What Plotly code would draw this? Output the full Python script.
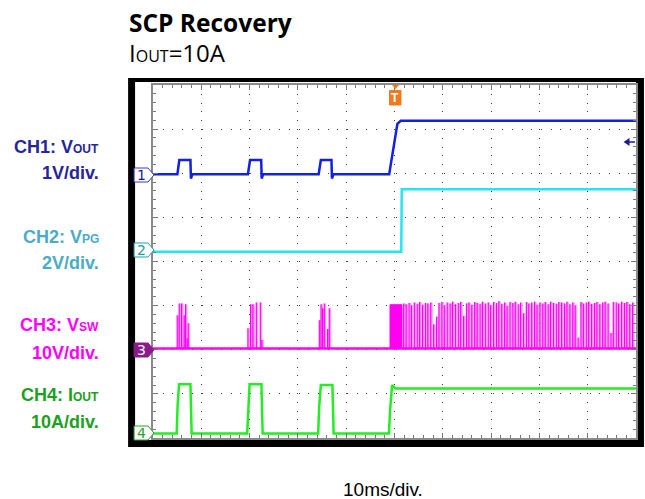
import plotly.graph_objects as go

# ---------------- data (screen divisions; time in ms, trigger at 0) ----------------
ch1_t = [-50, -44.95, -44.55, -42.25, -42.15, -41.85, -30.35, -29.9, -27.6, -27.5, -27.2,
         -15.7, -15.25, -13.05, -12.95, -12.65, -1.1, 0.6, 1.3, 50]
ch1_v = [1.98, 1.98, 2.30, 2.30, 1.88, 1.98, 1.98, 2.30, 2.30, 1.88, 1.98,
         1.98, 2.30, 2.30, 1.88, 1.98, 1.98, 3.12, 3.19, 3.19]

ch2_t = [-50, 1.4, 1.5, 50]
ch2_v = [0.22, 0.22, 1.64, 1.64]

ch3_base = -1.97
ch3_burst_t = [-44.99, -44.58, -44.08, -43.55, -43.26, -42.93, -42.72,
               -30.35, -29.79, -29.32, -28.62, -27.79, -27.46,
               -15.57, -15.22, -14.89, -14.54, -13.86, -13.51]
ch3_burst_h = [0.75, 1.02, 1.02, 0.75, 1.00, 0.23, 0.57,
               0.46, 1.00, 1.00, 1.04, 1.04, 0.19,
               0.64, 1.00, 0.91, 1.02, 0.44, 0.91]
ch3_block = [-0.93, 1.55, 0.99]          # dense switching block: start, end, height
ch3_cont_t = [1.9, 2.4, 3.0, 3.5, 4.1, 4.7, 5.2, 5.8, 6.4, 6.9,
              7.5, 8.1, 8.7, 9.2, 9.8, 10.3, 10.9, 11.5, 12.0, 12.6,
              13.2, 13.7, 14.3, 14.9, 15.4, 16.0, 16.6, 17.1, 17.7, 18.2,
              18.8, 19.4, 19.9, 20.5, 21.1, 21.6, 22.2, 22.8, 23.3, 23.9,
              24.5, 25.0, 25.6, 26.1, 26.7, 27.3, 27.8, 28.4, 29.0, 29.5,
              30.1, 30.7, 31.2, 31.8, 32.3, 32.9, 33.5, 34.0, 34.6, 35.2,
              35.7, 36.3, 36.9, 37.4, 38.0, 38.6, 39.1, 39.7, 40.2, 40.8,
              41.4, 41.9, 42.5, 43.1, 43.6, 44.2, 44.8, 45.3, 45.9, 46.4,
              47.0, 47.6, 48.1, 48.7, 49.3]
ch3_cont_h = [1.02, 1.00, 1.03, 0.98, 1.04, 1.01, 1.05, 0.99, 1.03, 1.02,
              1.04, 0.55, 0.72, 1.03, 1.05, 0.98, 1.04, 1.02, 1.06, 1.00,
              1.03, 1.05, 0.74, 1.02, 1.04, 0.99, 1.05, 1.03, 1.01, 1.06,
              1.02, 1.04, 0.98, 1.05, 1.03, 1.07, 1.01, 1.04, 0.97, 1.05,
              1.03, 1.06, 1.00, 1.04, 0.80, 1.05, 1.02, 1.04, 1.06, 0.99,
              1.04, 1.02, 1.05, 1.00, 1.06, 1.03, 1.01, 1.05, 1.04, 1.02,
              1.06, 1.00, 1.04, 0.98, 0.25, 1.05, 1.02, 1.04, 1.06, 1.01,
              1.03, 1.05, 1.00, 1.04, 1.06, 1.02, 0.35, 1.05, 1.04, 1.02,
              1.06, 1.03, 1.05, 1.00, 1.04]

ch4_t = [-50, -45.1, -44.9, -44.6, -42.25, -42.0, -30.5, -30.3, -30.0, -27.55, -27.3,
         -15.8, -15.6, -15.25, -12.85, -12.6, -1.15, -0.9, -0.5, 0.3, 50]
ch4_v = [-3.90, -3.90, -3.25, -2.78, -2.78, -3.90, -3.90, -3.30, -2.78, -2.78, -3.90,
         -3.90, -3.30, -2.80, -2.80, -3.90, -3.90, -3.35, -2.80, -2.88, -2.88]

labels = [("CH1: V<span style='font-size:12px'>OUT</span>", "1V/div.", "#26269a"),
          ("CH2: V<span style='font-size:12px'>PG</span>", "2V/div.", "#4bacc6"),
          ("CH3: V<span style='font-size:12px'>SW</span>", "10V/div.", "#ff00ff"),
          ("CH4: I<span style='font-size:12px'>OUT</span>", "10A/div.", "#20a020")]

# ---------------- layout helpers (pixel -> paper) ----------------
W, H = 645, 499
L, R, T, B = 153, 7, 85, 61
PW, PH = W - L - R, H - T - B


def px(x):
    return (x - L) / PW


def py(y):
    return (H - B - y) / PH


C1, C2, C3, C4 = "#1020e6", "#22e6f0", "#ff00f0", "#22ee22"

fig = go.Figure()

all_t = ch3_burst_t + ch3_cont_t
all_h = ch3_burst_h + ch3_cont_h

# light pink bars next to each switching spike
bx, by = [-50], [ch3_base]
w = 0.4
for t, h in sorted(zip(all_t, all_h)):
    bx += [t, t, t + w, t + w]
    by += [ch3_base, ch3_base + h, ch3_base + h, ch3_base]
bx.append(50)
by.append(ch3_base)
fig.add_trace(go.Scatter(x=bx, y=by, mode="lines", fill="toself", fillcolor="#ff9cff",
                         line=dict(width=0, color="#ff9cff")))
# magenta spike lines
lx, ly = [], []
for t, h in zip(all_t, all_h):
    lx += [t, t, None]
    ly += [ch3_base, ch3_base + h, None]
fig.add_trace(go.Scatter(x=lx, y=ly, mode="lines", line=dict(color=C3, width=1.2)))

b0, b1, bh = ch3_block
fig.add_trace(go.Scatter(x=[b0, b0, b1, b1], y=[ch3_base, ch3_base + bh, ch3_base + bh, ch3_base],
                         mode="lines", fill="toself", fillcolor=C3, line=dict(color=C3, width=1)))
fig.add_trace(go.Scatter(x=[-50, 50], y=[ch3_base, ch3_base], mode="lines",
                         line=dict(color=C3, width=2.5)))
fig.add_trace(go.Scatter(x=ch4_t, y=ch4_v, mode="lines", line=dict(color=C4, width=2.5)))
fig.add_trace(go.Scatter(x=ch2_t, y=ch2_v, mode="lines", line=dict(color=C2, width=2.5)))
fig.add_trace(go.Scatter(x=ch1_t, y=ch1_v, mode="lines", line=dict(color=C1, width=2.5)))

shapes = []
# black scope frame + white inner screen
shapes.append(dict(type="rect", xref="paper", yref="paper", layer="below",
                   x0=px(128), x1=px(646), y0=py(447), y1=py(78),
                   fillcolor="black", line=dict(width=0)))
shapes.append(dict(type="rect", xref="paper", yref="paper", layer="below",
                   x0=px(135), x1=px(638), y0=py(440), y1=py(82),
                   fillcolor="white", line=dict(width=0)))

# channel markers
markers = [(175, "1", "#3a3acc", "white", "#1a1a9a"),
           (250, "2", "#20a0a0", "white", "#20a0a0"),
           (350, "3", "#8b1a8b", "#8b1a8b", "white"),
           (433, "4", "#30a030", "white", "#30a030")]
annotations = []
for yc, txt, lc, fc, tc in markers:
    x0, x1, x2 = px(134), px(148), px(154)
    ya, yb, ym = py(yc - 7), py(yc + 7), py(yc)
    path = f"M{x0},{ya} L{x1},{ya} L{x2},{ym} L{x1},{yb} L{x0},{yb} Z"
    shapes.append(dict(type="path", xref="paper", yref="paper", path=path,
                       fillcolor=fc, line=dict(color=lc, width=1)))
    annotations.append(dict(xref="paper", yref="paper", x=px(141.5), y=ym, text=txt,
                            showarrow=False, font=dict(family="DejaVu Sans", size=14, color=tc),
                            xanchor="center", yanchor="middle"))

# trigger marker (orange T)
tx0, tx1 = px(390.5), px(402)
shapes.append(dict(type="path", xref="paper", yref="paper",
                   path=f"M{px(393)},{py(85)} L{px(400)},{py(85)} L{px(396.5)},{py(89)} Z",
                   fillcolor="#f07a1e", line=dict(width=0)))
shapes.append(dict(type="rect", xref="paper", yref="paper", x0=tx0, x1=tx1, y0=py(105), y1=py(90.5),
                   fillcolor="#f07a1e", line=dict(color="#f07a1e", width=1)))
annotations.append(dict(xref="paper", yref="paper", x=px(396.3), y=py(98), text="<b>T</b>",
                        showarrow=False, font=dict(family="Liberation Sans", size=12, color="white"),
                        xanchor="center", yanchor="middle"))

# trigger level arrow at right
shapes.append(dict(type="path", xref="paper", yref="paper",
                   path=f"M{px(625.5)},{py(142)} L{px(631.5)},{py(138)} L{px(631.5)},{py(146)} Z",
                   fillcolor="#1a1a9a", line=dict(width=0)))
shapes.append(dict(type="line", xref="paper", yref="paper", x0=px(630), x1=px(637),
                   y0=py(142), y1=py(142), line=dict(color="#1a1a9a", width=1.5)))

# channel labels
label_y = [(147, 173), (237, 263), (325, 353), (395, 422)]
for (l1, l2, col), (y1, y2) in zip(labels, label_y):
    for txt, yy in ((l1, y1), (l2, y2)):
        annotations.append(dict(xref="paper", yref="paper", x=px(101), y=py(yy), text=f"<b>{txt}</b>",
                                showarrow=False, xanchor="right", yanchor="middle",
                                font=dict(family="Liberation Sans", size=18, color=col)))

# titles
annotations.append(dict(xref="paper", yref="paper", x=px(127), y=py(22), text="<b>SCP Recovery</b>",
                        showarrow=False, xanchor="left", yanchor="middle",
                        font=dict(family="Open Sans", size=24.5, color="black")))
annotations.append(dict(xref="paper", yref="paper", x=px(127), y=py(52),
                        text="I<span style='font-size:16px'>OUT</span>=10A",
                        showarrow=False, xanchor="left", yanchor="middle",
                        font=dict(family="Open Sans", size=24, color="black")))
annotations.append(dict(xref="paper", yref="paper", x=px(384), y=py(489), text="10ms/div.",
                        showarrow=False, xanchor="center", yanchor="middle",
                        font=dict(family="Liberation Sans", size=19, color="black")))

axis_common = dict(showticklabels=False, zeroline=False, showline=True, linecolor="#8a8a8a",
                   linewidth=2, mirror="allticks", ticks="inside", ticklen=5, tickcolor="#777",
                   gridcolor="#444", gridwidth=1, fixedrange=True)
fig.update_layout(
    width=W, height=H, margin=dict(l=L, r=R, t=T, b=B),
    paper_bgcolor="white", plot_bgcolor="rgba(0,0,0,0)",
    showlegend=False, hovermode=False,
    xaxis=dict(range=[-50, 50], dtick=10, tick0=0, griddash="1px,7.8px",
               minor=dict(dtick=2, ticks="inside", ticklen=3, tickcolor="#777", showgrid=False),
               **axis_common),
    yaxis=dict(range=[-4, 4], dtick=1, tick0=0, griddash="1px,8.7px",
               minor=dict(dtick=0.2, ticks="inside", ticklen=3, tickcolor="#777", showgrid=False),
               **axis_common),
    shapes=shapes, annotations=annotations,
)

fig.write_html("out.html", config={"displayModeBar": False},
               post_script="document.body.style.margin='0';document.body.style.overflow='hidden';")
